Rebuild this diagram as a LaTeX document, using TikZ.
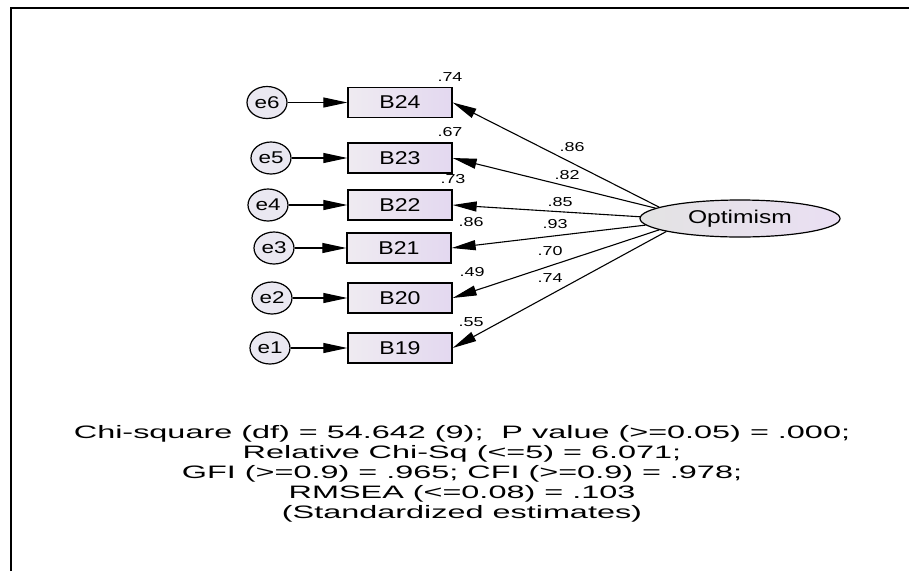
\documentclass[tikz,border=0pt]{standalone}
\usepackage{fontspec}
\setmainfont{Liberation Sans}
\newfontfamily\boxfont[FakeStretch=1.25]{Liberation Sans}
\newfontfamily\latfont[FakeStretch=1.33]{Liberation Sans}
\newfontfamily\efont[FakeStretch=1.32]{Liberation Sans}
\newfontfamily\lblfont[FakeStretch=1.38]{Liberation Sans}
\newfontfamily\fitfont[FakeStretch=1.8]{Liberation Sans}
\usetikzlibrary{arrows.meta,shapes.geometric}
\definecolor{boxL}{HTML}{EFEBF1}
\definecolor{boxR}{HTML}{E3D8F0}
\definecolor{errfill}{HTML}{EAE8F1}
\definecolor{latL}{HTML}{E3E3E3}
\definecolor{latR}{HTML}{EADFF3}
\begin{document}
\begin{tikzpicture}[x=1pt,y=-1pt,
  obs/.style={draw, line width=1.3pt, minimum width=104pt, minimum height=30pt, inner sep=0pt,
    left color=boxL, right color=boxR, font=\boxfont\fontsize{18.5}{18.5}\selectfont},
  err/.style={draw, ellipse, line width=1.2pt, minimum width=40pt, minimum height=32pt, inner sep=0pt,
    fill=errfill, font=\efont\fontsize{17}{17}\selectfont},
  lat/.style={draw, ellipse, line width=1.2pt, minimum width=200pt, minimum height=37pt, inner sep=0pt,
    left color=latL, right color=latR, font=\latfont\fontsize{18.5}{18.5}\selectfont},
  arr/.style={line width=1.1pt, -{Triangle[length=24pt,width=10pt]}},
  lbl/.style={font=\lblfont\fontsize{13}{13}\selectfont, inner sep=0pt},
  fitline/.style={font=\fitfont\fontsize{18}{20}\selectfont, inner sep=0pt, anchor=base}
]
\useasboundingbox (0,0) rectangle (909,571);
\fill[white] (0,0) rectangle (909,571);
\draw[line width=2pt] (11,571) -- (11,8) -- (909,8);

% latent
\node[lat] (opt) at (740,218.5) {Optimism};

% observed
\node[obs] (B24) at (400,102.5) {B24};
\node[obs] (B23) at (400,158) {B23};
\node[obs] (B22) at (400,205) {B22};
\node[obs] (B21) at (399,248) {B21};
\node[obs] (B20) at (400,298) {B20};
\node[obs] (B19) at (400,348) {B19};

% errors
\node[err] (e6) at (267,102.5) {e6};
\node[err] (e5) at (271,158) {e5};
\node[err] (e4) at (268,205) {e4};
\node[err] (e3) at (274,248) {e3};
\node[err] (e2) at (272,298) {e2};
\node[err] (e1) at (270,348) {e1};

\draw[arr] (e6) -- (B24);
\draw[arr] (e5) -- (B23);
\draw[arr] (e4) -- (B22);
\draw[arr] (e3) -- (B21);
\draw[arr] (e2) -- (B20);
\draw[arr] (e1) -- (B19);

\draw[arr] (opt.172.2) -- (B24.east);
\draw[arr] (opt.173.1) -- (B23.east);
\draw[arr] (opt.179.4) -- (B22.east);
\draw[arr] (opt.184.1) -- (B21.east);
\draw[arr] (opt.188.4) -- (B20.east);
\draw[arr] (opt.190.3) -- (B19.east);

% squared multiple correlations
\node[lbl] (r24) at (450,77) {.74};
\node[lbl] (r23) at (450,132) {.67};
\node[lbl] (r22) at (453,179) {.73};
\node[lbl] (r21) at (471,222) {.86};
\node[lbl] (r20) at (472,272) {.49};
\node[lbl] (r19) at (471,322) {.55};

% loadings
\node[lbl] (l24) at (572,147) {.86};
\node[lbl] (l23) at (567,175) {.82};
\node[lbl] (l22) at (560,202) {.85};
\node[lbl] (l21) at (555,224) {.93};
\node[lbl] (l20) at (550,251) {.70};
\node[lbl] (l19) at (550,278) {.74};

% fit statistics
\node[fitline] (f1) at (462,438) {Chi-square (df) = 54.642 (9);\ \ P value (>=0.05) = .000;};
\node[fitline] (f2) at (462,458) {Relative Chi-Sq (<=5) = 6.071;};
\node[fitline] (f3) at (462,478) {GFI (>=0.9) = .965; CFI (>=0.9) = .978;};
\node[fitline] (f4) at (462,498) {RMSEA (<=0.08) = .103};
\node[fitline] (f5) at (462,518) {(Standardized estimates)};
\end{tikzpicture}
\end{document}
